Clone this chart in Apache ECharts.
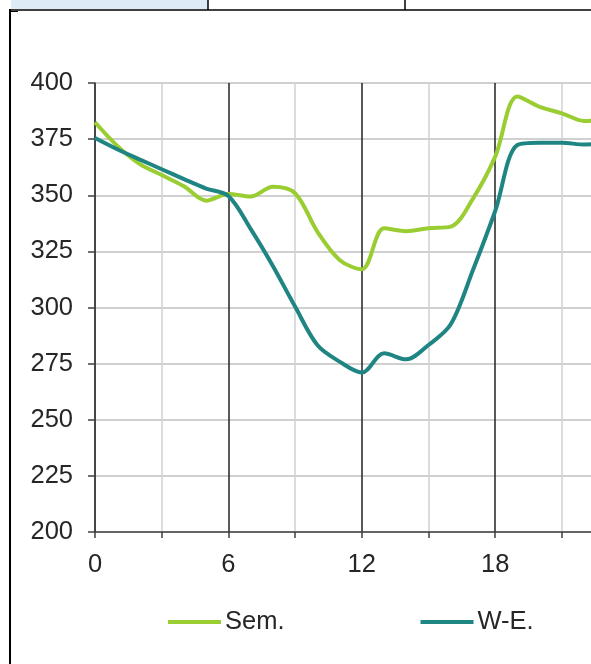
<!DOCTYPE html>
<html>
<head>
<meta charset="utf-8">
<script src="https://cdn.jsdelivr.net/npm/echarts@6/dist/echarts.min.js"></script>
<style>
html,body{margin:0;padding:0;background:#fff;overflow:hidden;width:591px;height:664px;}
#c{width:640px;height:664px;}
</style>
</head>
<body>
<div id="c"></div>
<script>
// Hours of the day (x values)
var hours = [0,1,2,3,4,5,6,7,8,9,10,11,12,13,14,15,16,17,18,19,20,21,22,23];
// Series values
var semValues = [382.5,372,364,359,354,347.6,350.6,349.4,353.8,350.9,333.8,321.2,317,335.3,334,335.3,336,348.5,367.2,394,389.4,386.5,383.1,384];
var weValues  = [375.5,370.5,366,361.6,357.2,353,349.7,335,318.5,300.4,283.3,275.9,271,279.6,276.9,283.3,292.5,316.7,343,372.4,373.4,373.4,372.6,373];
var seriesNames = ['Sem.', 'W-E.'];
// Tick labels
var xTickLabels = [0, 6, 12, 18];

function pairs(xs, ys){ return xs.map(function(x,i){ return [x, ys[i]]; }); }

var chart = echarts.init(document.getElementById('c'), null, {renderer:'canvas'});
var font = '"Liberation Sans", Arial, sans-serif';
chart.setOption({
  animation:false,
  backgroundColor:'#ffffff',
  grid:{left:95, top:83, height:449, right:640-(95+23*22.233)},
  xAxis:{
    type:'value', min:0, max:23, interval:3,
    axisLine:{show:true, onZero:false, lineStyle:{color:'#404040', width:1.5}},
    axisTick:{show:true, length:6, lineStyle:{color:'#404040', width:1.5}},
    axisLabel:{
      margin:20, fontSize:25.5, fontFamily:font, color:'#262626',
      formatter:function(v){ return xTickLabels.indexOf(v) >= 0 ? String(v) : ''; }
    },
    splitLine:{show:true, lineStyle:{color:['#222222','#d0d0d0'], width:1.5}}
  },
  yAxis:{
    type:'value', min:200, max:400, interval:25,
    axisLine:{show:true, lineStyle:{color:'#404040', width:1.5}},
    axisTick:{show:true, length:7, lineStyle:{color:'#404040', width:1.5}},
    axisLabel:{margin:22, fontSize:25.5, fontFamily:font, color:'#262626'},
    splitLine:{show:true, lineStyle:{color:'#d0d0d0', width:2}}
  },
  legend:{
    left:163, top:604, itemWidth:53, itemHeight:4, itemGap:136, icon:'rect',
    textStyle:{fontSize:25.5, fontFamily:font, color:'#262626', padding:[0,0,0,-1]},
    data:seriesNames
  },
  series:[
    {name:seriesNames[0], type:'line', data:pairs(hours, semValues), smooth:0.33, showSymbol:false,
     lineStyle:{color:'#9acd32', width:4}, itemStyle:{color:'#9acd32'}},
    {name:seriesNames[1], type:'line', data:pairs(hours, weValues), smooth:0.33, showSymbol:false,
     lineStyle:{color:'#1f8583', width:4}, itemStyle:{color:'#1f8583'}}
  ],
  graphic:[
    {type:'rect', shape:{x:11, y:0, width:197, height:9}, style:{fill:'#ddebf7'}, silent:true},
    {type:'line', shape:{x1:208, y1:0, x2:208, y2:10}, style:{stroke:'#000', lineWidth:1.5}, silent:true},
    {type:'line', shape:{x1:405, y1:0, x2:405, y2:10}, style:{stroke:'#000', lineWidth:1.5}, silent:true},
    {type:'line', shape:{x1:9, y1:10, x2:640, y2:10}, style:{stroke:'#000', lineWidth:1.5}, silent:true},
    {type:'line', shape:{x1:10, y1:9, x2:10, y2:664}, style:{stroke:'#000', lineWidth:2}, silent:true},
    {type:'rect', shape:{x:11, y:11, width:7, height:1}, style:{fill:'#000'}, silent:true}
  ]
});
</script>
</body>
</html>
